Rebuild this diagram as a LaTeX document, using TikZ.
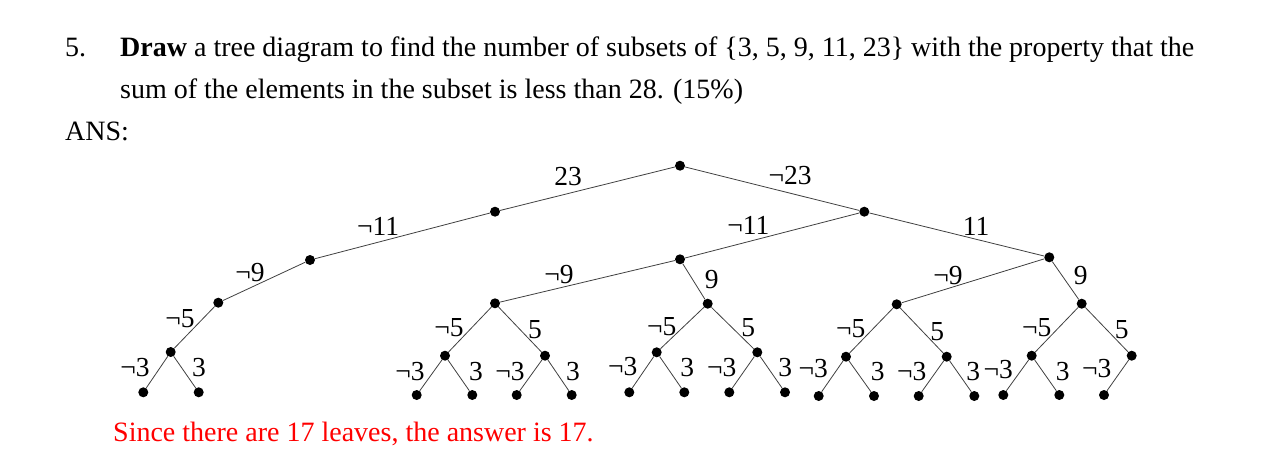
\documentclass[tikz,border=0pt]{standalone}
\usepackage{fontspec}
\setmainfont{Liberation Serif}
\begin{document}
\begin{tikzpicture}[x=1pt,y=-1pt,
  dot/.style={circle,fill=black,inner sep=0pt,minimum size=10pt},
  edge/.style={draw=black!75,line width=0.8pt},
  lbl/.style={inner sep=0pt,font=\fontsize{27.5}{33}\selectfont},
  txt/.style={inner sep=0pt,anchor=base west,font=\fontsize{28}{33}\selectfont}]
\useasboundingbox (0,0) rectangle (1287,469);
% header
\node[txt] (num) at (65,56.5) {5.};
\node[txt] (q1) at (120,56.5) {\textbf{Draw} a tree diagram to find the number of subsets of \{3, 5, 9, 11, 23\} with the property that the};
\node[txt] (q2) at (120,98.5) {sum of the elements in the subset is less than 28. (15\%)};
\node[txt] (ans) at (65,140.5) {ANS:};
\node[txt,text=red] (res) at (113,441) {Since there are 17 leaves, the answer is 17.};
% nodes
\node[dot] (R) at (680,165.7) {};
\node[dot] (A) at (495,211.7) {};
\node[dot] (B) at (310,260) {};
\node[dot] (C) at (218.3,302.7) {};
\node[dot] (D) at (170.7,352) {};
\node[dot] (D1) at (143.3,392.3) {};
\node[dot] (D2) at (198.7,392.3) {};
\node[dot] (N) at (864.3,211.7) {};
\node[dot] (F) at (680,259.3) {};
\node[dot] (E) at (495,303.3) {};
\node[dot] (E1) at (445,355.7) {};
\node[dot] (E2) at (545,355.7) {};
\node[dot] (E11) at (416.7,395) {};
\node[dot] (E12) at (472.3,395) {};
\node[dot] (E21) at (516.7,395) {};
\node[dot] (E22) at (571.7,395) {};
\node[dot] (G) at (707.7,303.7) {};
\node[dot] (G1) at (656.7,352.3) {};
\node[dot] (G2) at (757.3,352.3) {};
\node[dot] (G11) at (629.3,392.3) {};
\node[dot] (G12) at (684.3,392.3) {};
\node[dot] (G21) at (729.3,392.3) {};
\node[dot] (G22) at (785,392.3) {};
\node[dot] (H) at (1049.3,257.3) {};
\node[dot] (I) at (896.7,304.3) {};
\node[dot] (I1) at (846,356.7) {};
\node[dot] (I2) at (946.7,356.7) {};
\node[dot] (I11) at (818.7,396) {};
\node[dot] (I12) at (874,396) {};
\node[dot] (I21) at (918.7,396) {};
\node[dot] (I22) at (974.3,396) {};
\node[dot] (J) at (1081.7,303.7) {};
\node[dot] (J1) at (1031.7,355.7) {};
\node[dot] (J2) at (1131.7,355.7) {};
\node[dot] (J11) at (1003.3,395) {};
\node[dot] (J12) at (1059.3,395) {};
\node[dot] (J21) at (1104,395) {};
% edges
\foreach \a/\b in {R/A,A/B,B/C,C/D,D/D1,D/D2,R/N,N/F,F/E,E/E1,E/E2,E1/E11,E1/E12,E2/E21,E2/E22,
  F/G,G/G1,G/G2,G1/G11,G1/G12,G2/G21,G2/G22,N/H,H/I,I/I1,I/I2,I1/I11,I1/I12,I2/I21,I2/I22,
  H/J,J/J1,J/J2,J1/J11,J1/J12,J2/J21}
  \draw[edge] (\a) -- (\b);
% labels
\node[lbl] (l1) at (568,176.7) {23};
\node[lbl] (l2) at (378,226) {¬11};
\node[lbl] (l3) at (250,272.7) {¬9};
\node[lbl] (l4) at (180,319) {¬5};
\node[lbl] (l5) at (135,368) {¬3};
\node[lbl] (l6) at (199,368) {3};
\node[lbl] (l7) at (790,176) {¬23};
\node[lbl] (l8) at (748.3,225) {¬11};
\node[lbl] (l9) at (976,226) {11};
\node[lbl] (l10) at (559,275) {¬9};
\node[lbl] (l11) at (711.7,280) {9};
\node[lbl] (l12) at (449,328) {¬5};
\node[lbl] (l13) at (535,330) {5};
\node[lbl] (l14) at (410,371.7) {¬3};
\node[lbl] (l15) at (476,372) {3};
\node[lbl] (l16) at (510,372) {¬3};
\node[lbl] (l17) at (573,372) {3};
\node[lbl] (l18) at (661.7,326.7) {¬5};
\node[lbl] (l19) at (748.3,328) {5};
\node[lbl] (l20) at (622.7,367) {¬3};
\node[lbl] (l21) at (687.3,368) {3};
\node[lbl] (l22) at (721.7,368) {¬3};
\node[lbl] (l23) at (785.3,368) {3};
\node[lbl] (l24) at (948,276) {¬9};
\node[lbl] (l25) at (1080.7,276) {9};
\node[lbl] (l26) at (850.7,329) {¬5};
\node[lbl] (l27) at (937.3,331.7) {5};
\node[lbl] (l28) at (813.3,369) {¬3};
\node[lbl] (l29) at (877.7,371.7) {3};
\node[lbl] (l30) at (911.7,372) {¬3};
\node[lbl] (l31) at (973.3,372) {3};
\node[lbl] (l32) at (1036.7,328) {¬5};
\node[lbl] (l33) at (1121.7,330) {5};
\node[lbl] (l34) at (998.3,369.3) {¬3};
\node[lbl] (l35) at (1062.7,371.7) {3};
\node[lbl] (l36) at (1096.7,369) {¬3};
\end{tikzpicture}
\end{document}
